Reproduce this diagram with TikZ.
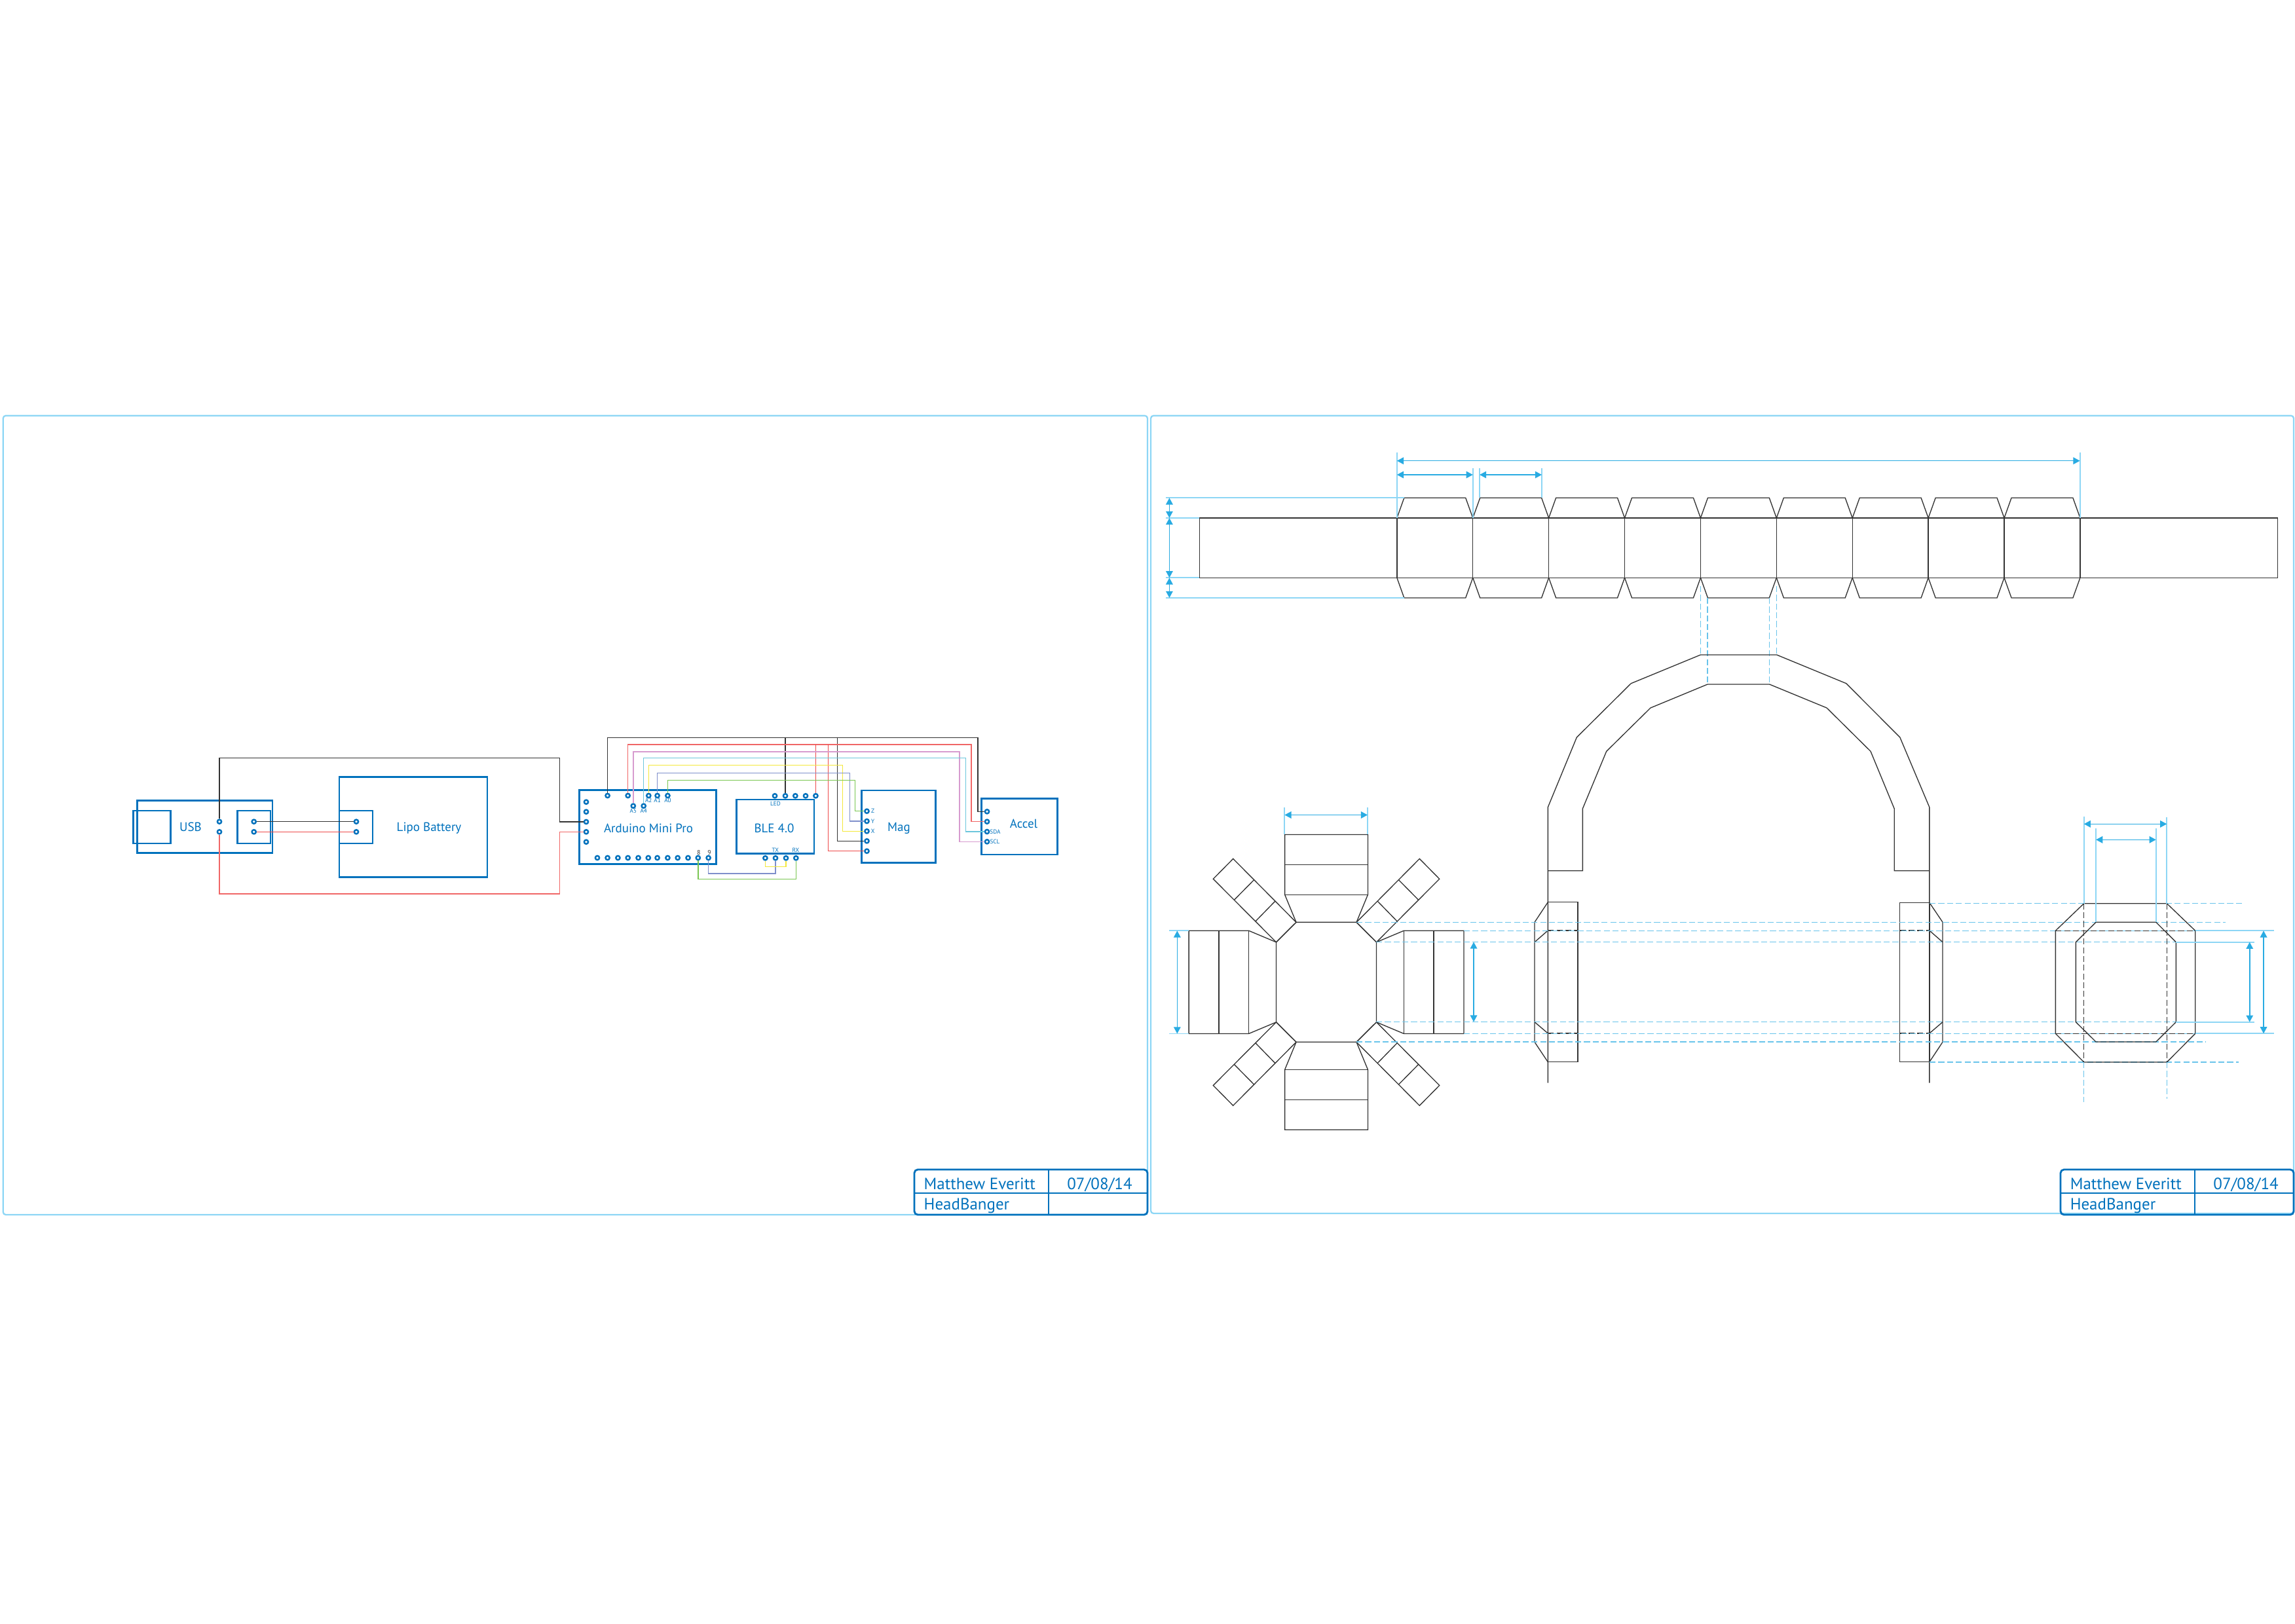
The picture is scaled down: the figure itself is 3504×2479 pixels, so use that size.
\documentclass[tikz,border=0pt]{standalone}
\usepackage{fontspec}
\setmainfont{PT Sans}
\usetikzlibrary{arrows.meta}
\definecolor{boxblue}{HTML}{0071BC}
\definecolor{dimblue}{HTML}{29ABE2}
\definecolor{frameblue}{HTML}{8DD6F5}
\definecolor{linedark}{HTML}{333333}
\definecolor{wirered}{HTML}{EE4B4B}
\definecolor{wirepink}{HTML}{D79BCF}
\definecolor{wirecyan}{HTML}{6CC6DC}
\definecolor{wireyellow}{HTML}{F4E83A}
\definecolor{wireblue}{HTML}{7F8FCB}
\definecolor{wiregreen}{HTML}{79C651}
\tikzset{
  box/.style={draw=boxblue, line width=0.8pt, inner sep=0pt},
  subbox/.style={draw=boxblue, line width=0.65pt, inner sep=0pt},
  pin/.style={circle, draw=boxblue, line width=0.7pt, fill=white, inner sep=0pt, minimum size=0.062cm},
  lab/.style={text=boxblue, inner sep=0pt, font=\fontsize{5.4}{7}\selectfont},
  tinylab/.style={text=boxblue, inner sep=0pt, font=\fontsize{2.6}{3}\selectfont},
  numlab/.style={text=linedark, inner sep=0pt, font=\fontsize{2.8}{3}\selectfont},
  titlelab/.style={text=boxblue, inner sep=0pt, font=\fontsize{7.1}{9}\selectfont},
  wire/.style={line width=0.42pt},
  outline/.style={draw=linedark, line width=0.38pt},
  dim/.style={draw=dimblue, line width=0.45pt, <->},
  ext/.style={draw=frameblue, line width=0.5pt},
  guide/.style={draw=dimblue!70, line width=0.4pt, dash pattern=on 2.6pt off 1.2pt},
  hidden/.style={draw=linedark, line width=0.38pt, dash pattern=on 2.6pt off 1.2pt},
  >={Triangle[length=2.9pt,width=3pt]}
}

\begin{document}
\begin{tikzpicture}[x=0.01cm, y=-0.01cm]
\useasboundingbox (0,0) rectangle (3504,2479);

\draw[draw=frameblue, line width=0.65pt, rounded corners=1.2pt] (4.7,634.7) rectangle (1752,1855);
\draw[draw=frameblue, line width=0.65pt, rounded corners=1.2pt] (1757,634.7) rectangle (3502,1853);

\foreach \dx in {0,1750} {
  \draw[draw=boxblue, line width=0.8pt, rounded corners=1.5pt] ({1396+\dx},1786) rectangle ({1752+\dx},1855);
  \draw[draw=boxblue, line width=0.8pt] ({1396+\dx},1822) -- ({1752+\dx},1822);
  \draw[draw=boxblue, line width=0.8pt] ({1601+\dx},1786) -- ({1601+\dx},1855);
  \node[titlelab, anchor=base west] (author\dx) at ({1410+\dx},1816) {Matthew Everitt};
  \node[titlelab, anchor=base] (date\dx) at ({1679+\dx},1816) {07/08/14};
  \node[titlelab, anchor=base west] (project\dx) at ({1410+\dx},1847) {HeadBanger};
}

\node[box, minimum width=2.064cm, minimum height=0.8cm] (usb) at (312.8,1262.7) {};
\node[subbox, minimum width=0.57cm, minimum height=0.5cm] (usbplug) at (232,1262.7) {};
\node[subbox, minimum width=0.504cm, minimum height=0.5cm] (usbsocket) at (387.8,1262.7) {};
\node[box, minimum width=2.26cm, minimum height=1.527cm] (lipo) at (631,1262.7) {};
\node[subbox, minimum width=0.51cm, minimum height=0.5cm] (liposocket) at (543.5,1262.7) {};
\node[box, minimum width=2.087cm, minimum height=1.134cm] (arduino) at (989,1263) {};
\node[box, minimum width=1.184cm, minimum height=0.827cm] (ble) at (1183.7,1262.3) {};
\node[box, minimum width=1.127cm, minimum height=1.107cm] (mag) at (1371.7,1262.3) {};
\node[box, minimum width=1.155cm, minimum height=0.857cm] (accel) at (1556.3,1262.2) {};

\node[lab] (usblab) at (291,1263.3) {USB};
\node[lab] (lipolab) at (655,1265) {Lipo Battery};
\node[lab] (arduinolab) at (990,1264.5) {Arduino Mini Pro};
\node[lab] (blelab) at (1182,1265.3) {BLE 4.0};
\node[lab] (maglab) at (1372.5,1265) {Mag};
\node[lab] (accellab) at (1563,1258.3) {Accel};

\foreach \name/\x/\y in {usbg/335/1254.7, usbv/335/1270.3, sockg/387.7/1254.7, sockv/387.7/1270.3, lipog/544/1254.7, lipov/544/1270.3} {
  \node[pin] (\name) at (\x,\y) {};
}
\foreach \i/\y in {1/1224.7, 2/1239.7, 3/1255, 4/1270.3, 5/1285.7} {
  \node[pin] (ardl\i) at (895,\y) {};
}
\foreach \i/\x in {1/927.6, 2/958.7, 3/990.3, 4/1003.6, 5/1019.4} {
  \node[pin] (ardt\i) at (\x,1215) {};
}
\node[pin] (arda5) at (966.8,1230.7) {};
\node[pin] (arda4) at (982.7,1230.7) {};
\foreach \i/\x in {1/912, 2/927.6, 3/943.4, 4/958.7, 5/974.5, 6/989.8, 7/1003.6, 8/1019.4, 9/1034.7, 10/1050.5, 11/1065.8, 12/1081.6} {
  \node[pin] (ardb\i) at (\x,1310) {};
}
\foreach \i/\x in {1/1183, 2/1199, 3/1214.3, 4/1230, 5/1245.4} {
  \node[pin] (blet\i) at (\x,1215.3) {};
}
\foreach \i/\x in {1/1168.4, 2/1184, 3/1200, 4/1215.3} {
  \node[pin] (bleb\i) at (\x,1310.3) {};
}
\foreach \i/\y in {1/1238.7, 2/1254, 3/1269.3, 4/1284.3, 5/1299.7} {
  \node[pin] (magp\i) at (1323.5,\y) {};
}
\foreach \i/\y in {1/1239.3, 2/1254.7, 3/1270, 4/1285.3} {
  \node[pin] (accp\i) at (1507,\y) {};
}

\node[tinylab] (laba5) at (966.8,1238) {A5};
\node[tinylab] (laba4) at (982.7,1238) {A4};
\node[tinylab] (laba2) at (990.3,1222.7) {A2};
\node[tinylab] (laba1) at (1003.6,1222.7) {A1};
\node[tinylab] (laba0) at (1019.4,1222.7) {A0};
\node[numlab] (lab8) at (1066.8,1302.3) {8};
\node[numlab] (lab9) at (1083,1302.3) {9};
\node[tinylab] (labled) at (1184,1227) {LED};
\node[tinylab] (labtx) at (1183.7,1298.7) {TX};
\node[tinylab] (labrx) at (1215,1298.7) {RX};
\node[tinylab] (labz) at (1332.6,1238.7) {Z};
\node[tinylab] (laby) at (1332.6,1254) {Y};
\node[tinylab] (labx) at (1332.6,1269.3) {X};
\node[tinylab] (labsda) at (1519.4,1270) {SDA};
\node[tinylab] (labscl) at (1519,1285.3) {SCL};

\coordinate (railusbg) at (854.5,1157.3);
\coordinate (railusbv) at (854.5,1365);
\coordinate (railk) at (1492.9,1126.7);
\coordinate (railr) at (1483,1137);
\coordinate (railp) at (1464.8,1148);
\coordinate (railc) at (1474.5,1157.7);
\coordinate (raily) at (1286.7,1168.7);
\coordinate (railb) at (1297.4,1180.7);
\coordinate (railg) at (1305.6,1191.7);
\coordinate (dropk) at (1278.6,1126.7);
\coordinate (dropr) at (1264.3,1137);
\coordinate (railrx) at (1215.3,1342.7);
\coordinate (railtx) at (1184,1334);
\coordinate (railble) at (1200,1323.3);

\draw[wire, linedark] (usbg) |- (railusbg) |- (ardl3);
\draw[wire, wirered!85] (usbv) |- (railusbv) |- (ardl4);
\draw[wire, linedark] (sockg) -- (lipog);
\draw[wire, wirered] (sockv) -- (lipov);
\draw[wire, linedark] (ardt1) |- (railk) |- (accp1);
\draw[wire, linedark] (blet2) -- (blet2 |- railk);
\draw[wire, linedark] (magp4) -| (dropk);
\draw[wire, wirered!85] (ardt2) |- (railr) |- (accp2);
\draw[wire, wirered] (blet5) -- (blet5 |- railr);
\draw[wire, wirered] (magp5) -| (dropr);
\draw[wire, wirepink] (arda5) |- (railp) |- (accp4);
\draw[wire, wirecyan] (arda4) |- (railc) |- (accp3);
\draw[wire, wireyellow] (ardt3) |- (raily) |- (magp3);
\draw[wire, wireblue] (ardt4) |- (railb) |- (magp2);
\draw[wire, wiregreen] (ardt5) |- (railg) |- (magp1);
\draw[wire, wiregreen] (ardb11) |- (railrx) -- (bleb4);
\draw[wire, wireblue] (ardb12) |- (railtx) -- (bleb2);
\draw[wire, wireyellow] (bleb1) |- (railble) -- (bleb3);

\draw[outline] (1831.4,791) rectangle (3477.4,882.3);
\foreach \k in {0,...,8} {
  \draw[outline, shift={({2132.8+115.9*\k},0)}] (0,791) -- (11,760.3) -- (104.9,760.3) -- (115.9,791);
  \draw[outline, shift={({2132.8+115.9*\k},0)}] (0,882.3) -- (11,913) -- (104.9,913) -- (115.9,882.3);
  \draw[outline, shift={({2132.8+115.9*\k},0)}] (0,791) -- (0,882.3);
}
\draw[outline] (3175.9,791) -- (3175.9,882.3);

\draw[ext] (2132.8,690.7) -- (2132.8,791);
\draw[ext] (3175.6,690.7) -- (3175.6,791);
\draw[ext] (2248.8,715) -- (2248.8,791);
\draw[ext] (2259,715) -- (2259,760.3);
\draw[ext] (2354,715) -- (2354,760.3);
\draw[ext] (1780,760.3) -- (2144,760.3);
\draw[ext] (1780,791) -- (1831.4,791);
\draw[ext] (1780,882.3) -- (1831.4,882.3);
\draw[ext] (1780,913) -- (2144,913);
\draw[dim] (2132.8,703.7) -- (3175.6,703.7);
\draw[dim] (2132.8,725) -- (2248.8,725);
\draw[dim] (2259,725) -- (2354,725);
\draw[dim] (1785.4,760.3) -- (1785.4,791);
\draw[dim] (1785.4,791) -- (1785.4,882.3);
\draw[dim] (1785.4,882.3) -- (1785.4,913);

\foreach \x in {2596.3,2712.2} {
  \draw[guide] (\x,895) -- (\x,1000);
}
\foreach \x in {2607,2701.6} {
  \draw[guide] (\x,913) -- (\x,1045);
}

\draw[outline] (2363.3,1653.7) -- (2363.3,1232.7) -- (2407.3,1126) -- (2490.2,1043.7) -- (2596.3,1000) -- (2712.7,1000) -- (2818.8,1043.7) -- (2900.8,1126) -- (2945.8,1232.7) -- (2945.8,1653.7);
\draw[outline] (2363.3,1329.7) -- (2416.3,1329.7) -- (2416.3,1235) -- (2452.7,1147.3) -- (2520,1081) -- (2607,1045) -- (2701.6,1045) -- (2789,1081) -- (2856,1147.3) -- (2892.2,1235) -- (2892.2,1329.7) -- (2945.8,1329.7);

\draw[outline] (2363.3,1377.7) rectangle (2409,1621.7);
\draw[outline] (2363.3,1377.7) -- (2343,1408.3) -- (2343,1591.3) -- (2363.3,1621.7);
\draw[outline] (2363.3,1421) -- (2343,1438.7);
\draw[outline] (2343,1560.7) -- (2363.3,1578);
\draw[hidden] (2363.3,1421) -- (2409,1421);
\draw[hidden] (2363.3,1578) -- (2409,1578);
\draw[outline] (2900.5,1378.3) rectangle (2945.8,1621.7);
\draw[outline] (2945.8,1378.3) -- (2966,1408.3) -- (2966,1591.3) -- (2945.8,1621.7);
\draw[outline] (2945.8,1421) -- (2966,1438.7);
\draw[outline] (2966,1560.7) -- (2945.8,1578);
\draw[hidden] (2900.5,1421) -- (2945.8,1421);
\draw[hidden] (2900.5,1578) -- (2945.8,1578);

\draw[outline, shift={(2025,1499.85)}] (-46,-91.45) -- (46,-91.45) -- (76.5,-61.05) -- (76.5,61.05) -- (46,91.45) -- (-46,91.45) -- (-76.5,61.05) -- (-76.5,-61.05) -- cycle;
\foreach \s in {1,-1} {
  \draw[outline, shift={(2025,1499.85)}, yscale=\s] (-46,-91.45) -- (-63.4,-133.6) -- (-63.4,-225.4) -- (63.4,-225.4) -- (63.4,-133.6) -- (46,-91.45);
  \draw[outline, shift={(2025,1499.85)}, yscale=\s] (-63.4,-133.6) -- (63.4,-133.6);
  \draw[outline, shift={(2025,1499.85)}, yscale=\s] (-63.4,-179.6) -- (63.4,-179.6);
  \draw[outline, shift={(2025,1499.85)}, xscale=\s] (76.5,-61.05) -- (118.3,-78.6) -- (209.9,-78.6) -- (209.9,78.6) -- (118.3,78.6) -- (76.5,61.05);
  \draw[outline, shift={(2025,1499.85)}, xscale=\s] (118.3,-78.6) -- (118.3,78.6);
  \draw[outline, shift={(2025,1499.85)}, xscale=\s] (164.1,-78.6) -- (164.1,78.6);
}
\foreach \sx/\sy in {1/1,-1/1,1/-1,-1/-1} {
  \draw[outline, shift={(2025,1499.85)}, xscale=\sx, yscale=\sy] (46,-91.45) -- (142.3,-188.45) -- (172.7,-157.65) -- (76.5,-61.05) -- cycle;
  \draw[outline, shift={(2025,1499.85)}, xscale=\sx, yscale=\sy] (78,-123.85) -- (108,-93.05);
  \draw[outline, shift={(2025,1499.85)}, xscale=\sx, yscale=\sy] (110.3,-156.35) -- (140.7,-125.55);
}

\draw[ext] (1961.3,1233) -- (1961.3,1274.2);
\draw[ext] (2088,1233) -- (2088,1274.2);
\draw[ext] (1785,1421.3) -- (1815,1421.3);
\draw[ext] (1785,1578.5) -- (1815,1578.5);
\draw[dim] (1961.3,1244.5) -- (2088,1244.5);
\draw[dim] (1797.3,1421.3) -- (1797.3,1578.5);
\draw[dim] (2250,1438.5) -- (2250,1560.6);

\draw[guide] (2946,1379.5) -- (3427,1379.5);
\draw[guide] (2071,1408.3) -- (3398,1408.3);
\draw[guide] (2234.7,1421.2) -- (3415,1421.2);
\draw[guide] (2101,1438.6) -- (3322,1438.6);
\draw[guide] (2101,1560.7) -- (3322,1560.7);
\draw[guide] (2234.7,1578.4) -- (3352,1578.4);
\draw[guide] (2071,1591) -- (3368,1591);
\draw[guide] (2946,1622) -- (3418,1622);

\draw[outline] (3181.7,1379.7) -- (3308.3,1379.7) -- (3351.7,1421.3) -- (3351.7,1578.3) -- (3308.3,1622) -- (3181.7,1622) -- (3138.3,1578.3) -- (3138.3,1421.3) -- cycle;
\draw[outline] (3200,1408.3) -- (3291.7,1408.3) -- (3322.3,1438.7) -- (3322.3,1560.7) -- (3291.7,1591) -- (3200,1591) -- (3169.3,1560.7) -- (3169.3,1438.7) -- cycle;
\draw[hidden] (3138.3,1421.3) -- (3351.7,1421.3);
\draw[hidden] (3138.3,1578.3) -- (3351.7,1578.3);
\draw[hidden] (3181.7,1379.7) -- (3181.7,1622);
\draw[hidden] (3308.3,1379.7) -- (3308.3,1622);

\draw[ext] (3181.7,1246.7) -- (3181.7,1379.7);
\draw[ext] (3308.3,1248) -- (3308.3,1379.7);
\draw[ext] (3200,1265) -- (3200,1408.3);
\draw[ext] (3291.7,1265) -- (3291.7,1408.3);
\draw[ext] (3351.7,1421.3) -- (3471.7,1421.3);
\draw[ext] (3351.7,1578.3) -- (3471.7,1578.3);
\draw[ext] (3322.3,1438.7) -- (3441.7,1438.7);
\draw[ext] (3322.3,1560.7) -- (3441.7,1560.7);
\draw[guide] (3181.7,1622) -- (3181.7,1683);
\draw[guide] (3308.3,1622) -- (3308.3,1678);
\draw[dim] (3181.7,1258.3) -- (3308.3,1258.3);
\draw[dim] (3200,1282.3) -- (3291.7,1282.3);
\draw[dim] (3456,1421.3) -- (3456,1578.3);
\draw[dim] (3434.7,1438.7) -- (3434.7,1560.7);
\end{tikzpicture}
\end{document}
